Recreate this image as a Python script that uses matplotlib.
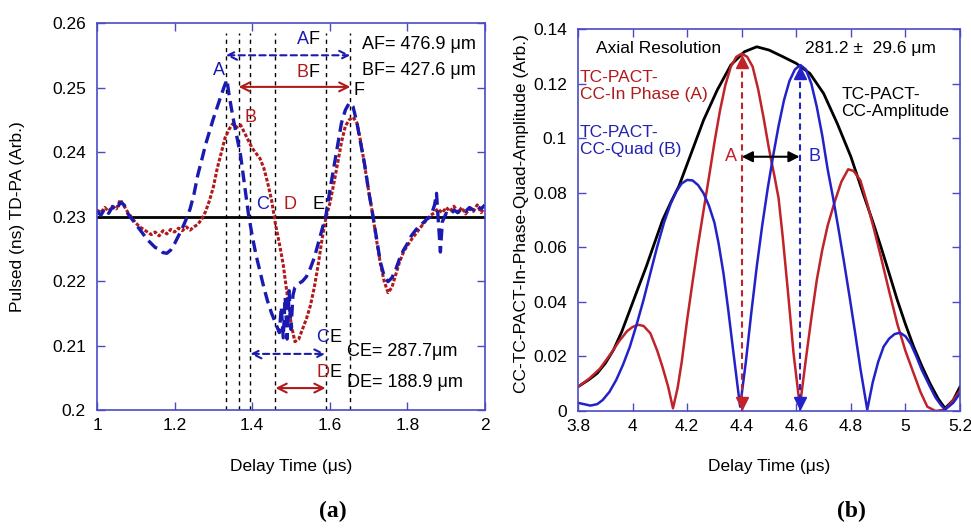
import matplotlib

matplotlib.use("Agg")

import matplotlib.pyplot as plt
from matplotlib.ticker import FuncFormatter

plt.rcParams["font.family"] = ["Liberation Sans", "DejaVu Sans"]

BLUE = "#1a1ab0"
RED = "#b01a1a"
SPINE = "#4a4ac8"

# ---- panel (a): pulsed TD-PA signals ----
pulse_x = [
    1.00, 1.01, 1.02, 1.03, 1.04, 1.05, 1.06, 1.07, 1.08, 1.09,
    1.10, 1.11, 1.12, 1.13, 1.14, 1.15, 1.16, 1.17, 1.18, 1.19,
    1.20, 1.21, 1.22, 1.23, 1.24, 1.25, 1.26, 1.27, 1.28, 1.29,
    1.30, 1.31, 1.32, 1.33, 1.335, 1.34, 1.35, 1.36, 1.37, 1.38,
    1.39, 1.40, 1.41, 1.42, 1.43, 1.44, 1.45, 1.46, 1.47, 1.475,
    1.48, 1.485, 1.49, 1.495, 1.50, 1.505, 1.51, 1.52, 1.53, 1.54,
    1.55, 1.56, 1.57, 1.58, 1.59, 1.60, 1.61, 1.62, 1.63, 1.64,
    1.65, 1.66, 1.67, 1.68, 1.69, 1.70, 1.71, 1.72, 1.73, 1.74,
    1.75, 1.76, 1.77, 1.78, 1.79, 1.80, 1.81, 1.82, 1.83, 1.84,
    1.85, 1.86, 1.87, 1.875, 1.88, 1.885, 1.89, 1.90, 1.91, 1.92,
    1.93, 1.94, 1.95, 1.96, 1.97, 1.98, 1.99, 2.00,
]
pulse_a = [
    0.2308, 0.2302, 0.2312, 0.2305, 0.2315, 0.2310, 0.2322, 0.2318, 0.2304, 0.2296,
    0.2288, 0.2280, 0.2272, 0.2264, 0.2258, 0.2252, 0.2250, 0.2244, 0.2243, 0.2248,
    0.2258, 0.2270, 0.2282, 0.2296, 0.2312, 0.2335, 0.2365, 0.2388, 0.2412, 0.2432,
    0.2452, 0.2470, 0.2488, 0.2505, 0.2512, 0.2490, 0.2455, 0.2425, 0.2395, 0.2350,
    0.2305, 0.2270, 0.2240, 0.2215, 0.2190, 0.2168, 0.2150, 0.2135, 0.2120, 0.2160,
    0.2112, 0.2175, 0.2110, 0.2185, 0.2125, 0.2178, 0.2190, 0.2196, 0.2200, 0.2207,
    0.2220, 0.2236, 0.2258, 0.2280, 0.2302, 0.2340, 0.2375, 0.2410, 0.2445, 0.2465,
    0.2476, 0.2470, 0.2445, 0.2412, 0.2380, 0.2340, 0.2305, 0.2268, 0.2230, 0.2208,
    0.2199, 0.2205, 0.2218, 0.2235, 0.2248, 0.2258, 0.2270, 0.2278, 0.2285, 0.2290,
    0.2296, 0.2300, 0.2318, 0.2336, 0.2290, 0.2245, 0.2292, 0.2305, 0.2302, 0.2310,
    0.2306, 0.2312, 0.2308, 0.2314, 0.2310, 0.2316, 0.2312, 0.2318,
]
pulse_b = [
    0.2310, 0.2306, 0.2314, 0.2308, 0.2316, 0.2312, 0.2326, 0.2316, 0.2306, 0.2298,
    0.2290, 0.2284, 0.2280, 0.2276, 0.2272, 0.2276, 0.2270, 0.2278, 0.2273, 0.2280,
    0.2276, 0.2282, 0.2278, 0.2284, 0.2279, 0.2284, 0.2288, 0.2296, 0.2308, 0.2325,
    0.2346, 0.2375, 0.2398, 0.2422, 0.2428, 0.2435, 0.2444, 0.2438, 0.2442, 0.2430,
    0.2418, 0.2406, 0.2398, 0.2390, 0.2375, 0.2352, 0.2325, 0.2288, 0.2258, 0.2242,
    0.2225, 0.2202, 0.2180, 0.2158, 0.2135, 0.2120, 0.2106, 0.2110, 0.2126, 0.2142,
    0.2162, 0.2190, 0.2225, 0.2265, 0.2298, 0.2320, 0.2350, 0.2382, 0.2415, 0.2440,
    0.2450, 0.2454, 0.2445, 0.2415, 0.2378, 0.2340, 0.2305, 0.2265, 0.2228, 0.2200,
    0.2182, 0.2190, 0.2210, 0.2230, 0.2245, 0.2255, 0.2264, 0.2272, 0.2280, 0.2288,
    0.2295, 0.2302, 0.2306, 0.2310, 0.2312, 0.2308, 0.2306, 0.2314, 0.2308, 0.2316,
    0.2306, 0.2314, 0.2304, 0.2312, 0.2308, 0.2318, 0.2306, 0.2316,
]
baseline = 0.2299
# marker times A, B, C, D, E, F (us)
marker_t = [1.332, 1.365, 1.395, 1.46, 1.589, 1.653]
marker_top = 0.2585

# ---- panel (b): cross-correlation ----
phase_x = [
    3.80, 3.84, 3.88, 3.92, 3.95, 3.98, 4.00, 4.02, 4.04, 4.065,
    4.09, 4.11, 4.13, 4.148, 4.165, 4.18, 4.20, 4.22, 4.24, 4.26,
    4.28, 4.30, 4.32, 4.34, 4.36, 4.38, 4.40, 4.42, 4.44, 4.46,
    4.48, 4.50, 4.52, 4.535, 4.55, 4.57, 4.59, 4.613, 4.635, 4.655,
    4.675, 4.695, 4.715, 4.74, 4.765, 4.79, 4.81, 4.835, 4.86, 4.885,
    4.91, 4.94, 4.97, 5.00, 5.03, 5.055, 5.08, 5.11, 5.145, 5.175,
    5.20,
]
phase_y = [
    0.0089, 0.0118, 0.0155, 0.0210, 0.0255, 0.0293, 0.0308, 0.0316, 0.0312, 0.0285,
    0.0222, 0.0160, 0.0090, 0.0010, 0.0085, 0.0180, 0.0335, 0.0475, 0.0610, 0.0735,
    0.0858, 0.0985, 0.1100, 0.1195, 0.1262, 0.1298, 0.1310, 0.1298, 0.1262, 0.1180,
    0.1075, 0.0960, 0.0860, 0.0780, 0.0640, 0.0430, 0.0210, 0.0016, 0.0190, 0.0340,
    0.0480, 0.0590, 0.0680, 0.0765, 0.0840, 0.0886, 0.0880, 0.0845, 0.0760, 0.0665,
    0.0565, 0.0440, 0.0320, 0.0220, 0.0138, 0.0070, 0.0016, 0.0000, 0.0005, 0.0040,
    0.0075,
]
quad_x = [
    3.80, 3.845, 3.87, 3.89, 3.915, 3.94, 3.965, 3.99, 4.015, 4.04,
    4.065, 4.09, 4.115, 4.14, 4.16, 4.18, 4.20, 4.22, 4.24, 4.26,
    4.28, 4.30, 4.315, 4.333, 4.35, 4.37, 4.394, 4.415, 4.435, 4.455,
    4.475, 4.495, 4.515, 4.535, 4.555, 4.575, 4.595, 4.615, 4.635, 4.655,
    4.675, 4.695, 4.715, 4.735, 4.755, 4.775, 4.795, 4.815, 4.835, 4.86,
    4.88, 4.90, 4.92, 4.94, 4.96, 4.98, 5.00, 5.02, 5.04, 5.06,
    5.09, 5.11, 5.13, 5.145, 5.175, 5.20,
]
quad_y = [
    0.0030, 0.0020, 0.0025, 0.0040, 0.0070, 0.0114, 0.0170, 0.0236, 0.0318, 0.0407,
    0.0505, 0.0602, 0.0690, 0.0761, 0.0805, 0.0834, 0.0847, 0.0845, 0.0828, 0.0798,
    0.0752, 0.0690, 0.0615, 0.0505, 0.0375, 0.0210, 0.0016, 0.0180, 0.0360, 0.0529,
    0.0680, 0.0815, 0.0935, 0.1045, 0.1140, 0.1210, 0.1252, 0.1268, 0.1252, 0.1200,
    0.1115, 0.1010, 0.0885, 0.0780, 0.0665, 0.0545, 0.0420, 0.0290, 0.0155, 0.0005,
    0.0105, 0.0180, 0.0236, 0.0265, 0.0282, 0.0287, 0.0274, 0.0245, 0.0200, 0.0150,
    0.0089, 0.0050, 0.0022, 0.0005, 0.0030, 0.0065,
]
amp_x = [
    3.80, 3.84, 3.87, 3.90, 3.93, 3.96, 3.99, 4.02, 4.05, 4.08,
    4.11, 4.14, 4.17, 4.21, 4.26, 4.31, 4.36, 4.41, 4.455, 4.50,
    4.55, 4.60, 4.65, 4.70, 4.75, 4.80, 4.845, 4.88, 4.91, 4.94,
    4.97, 5.00, 5.03, 5.06, 5.09, 5.12, 5.145, 5.175, 5.20,
]
amp_y = [
    0.0089, 0.0115, 0.0138, 0.0175, 0.0224, 0.0290, 0.0370, 0.0450, 0.0529, 0.0615,
    0.0700, 0.0765, 0.0825, 0.0932, 0.1066, 0.1176, 0.1268, 0.1317, 0.1335, 0.1323,
    0.1299, 0.1274, 0.1237, 0.1164, 0.1054, 0.0932, 0.0797, 0.0695, 0.0602, 0.0505,
    0.0407, 0.0318, 0.0236, 0.0165, 0.0101, 0.0045, 0.0010, 0.0040, 0.0089,
]
peak_a = (4.40, 0.1310)
peak_b = (4.612, 0.1268)
arrow_level = 0.0932


def style_axes(ax):
    for sp in ax.spines.values():
        sp.set_color(SPINE)
        sp.set_linewidth(1.2)
    ax.tick_params(direction="in", top=True, right=True, length=6,
                   width=1.0, color=SPINE, labelsize=12.5, labelcolor="black")


def two_color(ax, x, y, first, second, c1, c2="black", size=13):
    t = ax.text(x, y, first, color=c1, fontsize=size, ha="left", va="center")
    ax.annotate(second, xy=(1, 0), xycoords=t, va="bottom", ha="left",
                color=c2, fontsize=size)


def dbl_arrow(ax, x1, x2, y, color, ls, style="<->", lw=1.5):
    ax.annotate("", xy=(x2, y), xytext=(x1, y),
                arrowprops=dict(arrowstyle=style, color=color, lw=lw,
                                linestyle=ls, shrinkA=0, shrinkB=0,
                                mutation_scale=16))


fig = plt.figure(figsize=(9.71, 5.32), dpi=100)
ax1 = fig.add_axes([0.0999, 0.2293, 0.3996, 0.7274])
ax2 = fig.add_axes([0.5953, 0.2274, 0.3934, 0.7180])

# panel (a)
ax1.axhline(baseline, color="black", lw=2)
for t in marker_t:
    ax1.plot([t, t], [0.2, marker_top], color="black", lw=1,
             linestyle=(0, (3, 3)))
ax1.plot(pulse_x, pulse_b, color=RED, lw=2.2, linestyle=(0, (1.2, 0.6)))
ax1.plot(pulse_x, pulse_a, color=BLUE, lw=2.4, linestyle=(0, (3.5, 1.8)))

dbl_arrow(ax1, marker_t[0], marker_t[5], 0.2550, BLUE, (0, (3, 2)))
dbl_arrow(ax1, marker_t[1], marker_t[5], 0.2501, RED, "-")
dbl_arrow(ax1, marker_t[2], marker_t[4], 0.2087, BLUE, (0, (3, 2)))
dbl_arrow(ax1, marker_t[3], marker_t[4], 0.2034, RED, "-")

two_color(ax1, 1.515, 0.2574, "A", "F", BLUE)
two_color(ax1, 1.515, 0.2524, "B", "F", RED)
two_color(ax1, 1.565, 0.2113, "C", "E", BLUE)
two_color(ax1, 1.565, 0.2058, "D", "E", RED)
ax1.text(1.298, 0.2527, "A", color=BLUE, fontsize=13, va="center")
ax1.text(1.38, 0.2454, "B", color=RED, fontsize=13, va="center")
ax1.text(1.66, 0.2496, "F", color="black", fontsize=13, va="center")
ax1.text(1.41, 0.2318, "C", color=BLUE, fontsize=13, va="center")
ax1.text(1.48, 0.2318, "D", color=RED, fontsize=13, va="center")
ax1.text(1.555, 0.2318, "E", color="black", fontsize=13, va="center")
ax1.text(1.684, 0.2566, "AF= 476.9 μm", fontsize=13, va="center")
ax1.text(1.684, 0.2527, "BF= 427.6 μm", fontsize=13, va="center")
ax1.text(1.645, 0.2090, "CE= 287.7μm", fontsize=13, va="center")
ax1.text(1.645, 0.2042, "DE= 188.9 μm", fontsize=13, va="center")

ax1.set_xlim(1, 2)
ax1.set_ylim(0.2, 0.26)
ax1.set_xticks([1, 1.2, 1.4, 1.6, 1.8, 2])
ax1.set_yticks([0.2, 0.21, 0.22, 0.23, 0.24, 0.25, 0.26])
ax1.xaxis.set_major_formatter(FuncFormatter(lambda v, p: f"{v:g}"))
ax1.yaxis.set_major_formatter(FuncFormatter(lambda v, p: f"{v:g}"))
style_axes(ax1)
ax1.tick_params(axis="y", pad=8)
ax1.tick_params(axis="x", pad=6)

# panel (b)
ax2.plot(amp_x, amp_y, color="black", lw=2)
ax2.plot(phase_x, phase_y, color="#c0232a", lw=1.8)
ax2.plot(quad_x, quad_y, color="#2222c8", lw=1.8)

for (px, py), col in [(peak_a, "#c0232a"), (peak_b, "#2222c8")]:
    ax2.plot([px, px], [0, py], color=col, lw=1.5, linestyle=(0, (3, 2)))
    ax2.plot(px, py - 0.003, marker="^", color=col, markersize=8)
    ax2.plot(px, 0.003, marker="v", color=col, markersize=8)
dbl_arrow(ax2, peak_a[0], peak_b[0], arrow_level, "black", "-", "<|-|>", 1.5)

ax2.text(3.865, 0.1330, "Axial Resolution", fontsize=12.5, va="center")
ax2.text(4.632, 0.1330, "281.2 ±  29.6 μm", fontsize=12.5, va="center")
ax2.text(3.806, 0.1192, "TC-PACT-\nCC-In Phase (A)", color="#b01a1a",
         fontsize=12.5, va="center", linespacing=1.2)
ax2.text(3.806, 0.0990, "TC-PACT-\nCC-Quad (B)", color="#2222b0",
         fontsize=12.5, va="center", linespacing=1.2)
ax2.text(4.765, 0.1128, "TC-PACT-\nCC-Amplitude", color="black",
         fontsize=12.5, va="center", linespacing=1.2)
ax2.text(4.34, arrow_level, "A", color="#c0232a", fontsize=13, va="center")
ax2.text(4.645, arrow_level, "B", color="#2222c8", fontsize=13, va="center")

ax2.set_xlim(3.8, 5.2)
ax2.set_ylim(0, 0.14)
ax2.set_xticks([3.8, 4, 4.2, 4.4, 4.6, 4.8, 5, 5.2])
ax2.set_yticks([0, 0.02, 0.04, 0.06, 0.08, 0.1, 0.12, 0.14])
ax2.xaxis.set_major_formatter(FuncFormatter(lambda v, p: f"{v:g}"))
ax2.yaxis.set_major_formatter(FuncFormatter(lambda v, p: f"{v:g}"))
style_axes(ax2)
ax2.tick_params(axis="y", pad=8)
ax2.tick_params(axis="x", pad=6)

# labels
fig.text(0.0185, 0.593, "Pulsed (ns) TD-PA (Arb.)", rotation=90,
         ha="center", va="center", fontsize=12.5)
fig.text(0.537, 0.599, "CC-TC-PACT-In-Phase-Quad-Amplitude (Arb.)",
         rotation=90, ha="center", va="center", fontsize=12.5)
fig.text(0.2997, 0.124, "Delay Time (μs)", ha="center", va="center",
         fontsize=12.5)
fig.text(0.792, 0.124, "Delay Time (μs)", ha="center", va="center",
         fontsize=12.5)
fig.text(0.343, 0.038, "(a)", ha="center", va="center", fontsize=17,
         fontweight="bold", family="Liberation Serif")
fig.text(0.877, 0.038, "(b)", ha="center", va="center", fontsize=17,
         fontweight="bold", family="Liberation Serif")

fig.savefig("out.png", dpi=100)
plt.close(fig)
